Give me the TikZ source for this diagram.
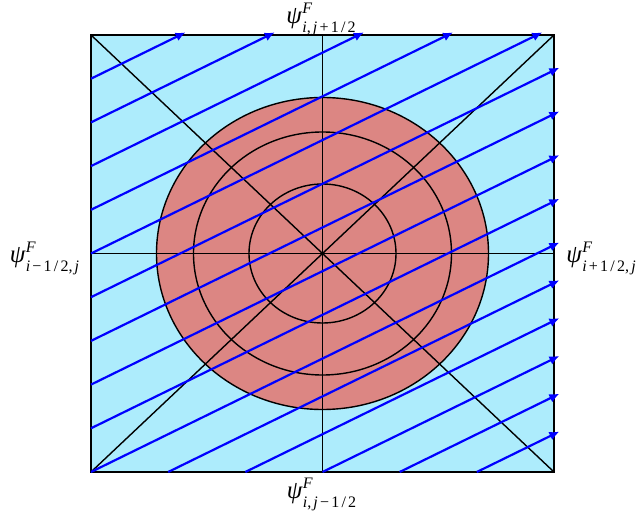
\documentclass[tikz,border=0pt]{standalone}
\usepackage{fontspec}
\setmainfont{Liberation Serif}
\usetikzlibrary{arrows.meta}
\definecolor{cellcyan}{RGB}{173,236,252}
\definecolor{discred}{RGB}{220,134,131}
\definecolor{flowblue}{RGB}{0,0,255}
\newcommand\sk{\kern2.2pt}
\newcommand\psilab[1]{{\fontsize{25}{25}\selectfont\itshape ψ}\kern0.5pt\raisebox{10.5pt}{\rlap{\fontsize{16}{16}\selectfont\itshape F}}\raisebox{-8.5pt}{\fontsize{16}{16}\selectfont #1}}
\begin{document}
\begin{tikzpicture}[x=1pt,y=-1pt,
  edge/.style={line width=1.4pt,black},
  flow/.style={flowblue,line width=2.2pt,-{Latex[length=10pt,width=9pt]},shorten >=-6pt},
  lab/.style={inner sep=0pt}]
\useasboundingbox (0,0) rectangle (638,521);
\coordinate (NW) at (91,35);
\coordinate (NE) at (554,35);
\coordinate (SW) at (91,472);
\coordinate (SE) at (554,472);
\coordinate (C) at (322.5,253.5);
\fill[cellcyan] (NW) rectangle (SE);
\filldraw[fill=discred,draw=black,line width=1.4pt] (C) ellipse [x radius=166pt, y radius=156pt];
\draw[edge] (C) ellipse [x radius=129pt, y radius=121.5pt];
\draw[edge] (C) ellipse [x radius=73.5pt, y radius=69.5pt];
\draw[edge] (NW) -- (SE);
\draw[edge] (SW) -- (NE);
\draw[edge] (C |- NW) -- (C |- SW);
\draw[edge] (NW |- C) -- (NE |- C);
\draw[line width=1.8pt] (NW) rectangle (SE);
% flow lines from the left edge
\foreach \k in {0,...,4}{
  \pgfmathsetmacro\ya{472-43.7*\k}
  \pgfmathsetmacro\yb{\ya-226.87}
  \coordinate (L\k) at (91,\ya);
  \coordinate (R\k) at (554,\yb);
  \draw[flow] (L\k) -- (R\k);
}
\foreach \k in {5,...,9}{
  \pgfmathsetmacro\ya{472-43.7*\k}
  \pgfmathsetmacro\xb{91+(\ya-35)/0.49}
  \coordinate (L\k) at (91,\ya);
  \coordinate (T\k) at (\xb,35);
  \draw[flow] (L\k) -- (T\k);
}
% flow lines from the bottom edge
\foreach \m in {1,...,5}{
  \pgfmathsetmacro\xa{91+77.167*\m}
  \pgfmathsetmacro\yb{472-(554-\xa)*0.49}
  \coordinate (B\m) at (\xa,472);
  \coordinate (Q\m) at (554,\yb);
  \draw[flow] (B\m) -- (Q\m);
}
\node[lab] (top) at (321,19) {\psilab{\textit{i},\sk\textit{j}\sk+\sk1\sk/\sk2}};
\node[lab] (bot) at (321.5,494) {\psilab{\textit{i},\sk\textit{j}\sk−\sk1\sk/\sk2}};
\node[lab] (lft) at (44.5,258) {\psilab{\textit{i}\sk−\sk1\sk/\sk2,\sk\textit{j}}};
\node[lab] (rgt) at (601,258) {\psilab{\textit{i}\sk+\sk1\sk/\sk2,\sk\textit{j}}};
\end{tikzpicture}
\end{document}
